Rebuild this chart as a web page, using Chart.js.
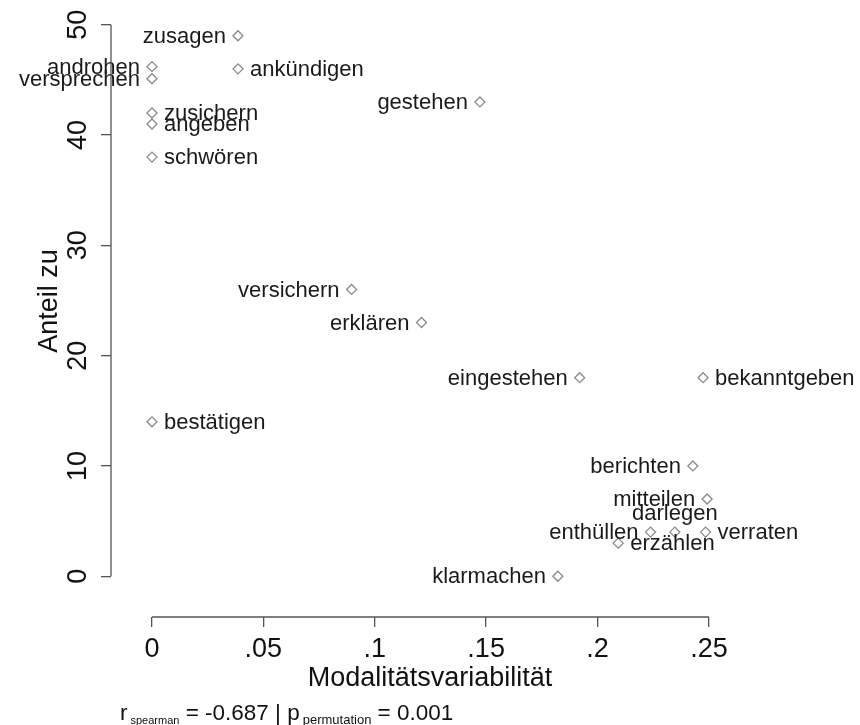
<!DOCTYPE html>
<html>
<head>
<meta charset="utf-8">
<script src="https://cdn.jsdelivr.net/npm/chart.js@4.4.0/dist/chart.umd.min.js"></script>
<style>
  html, body { margin: 0; padding: 0; background: #fff; }
</style>
</head>
<body>
<canvas id="chart" width="860" height="725"></canvas>
<script>
// Verben und ihre Werte
const verbs = ['zusagen', 'androhen', 'versprechen', 'ankündigen', 'gestehen', 'zusichern', 'angeben', 'schwören',
    'versichern', 'erklären', 'eingestehen', 'bekanntgeben', 'bestätigen', 'berichten', 'mitteilen', 'darlegen',
    'enthüllen', 'erzählen', 'verraten', 'klarmachen'];
const modVariability = [0.0386, 0, 0, 0.0386, 0.1472, 0, 0, 0, 0.0896, 0.121, 0.192, 0.2474, 0, 0.2428, 0.2492, 0.2347,
    0.2238, 0.2093, 0.2485, 0.1822];
const shareZu = [49, 46.2, 45.1, 46, 43, 42, 41, 38, 26, 23, 18, 18, 14, 10, 7, 4, 4, 3, 4, 0];
const labelSide = ['left', 'left', 'left', 'right', 'left', 'right', 'right', 'right', 'left', 'left', 'left', 'right',
    'right', 'left', 'left', 'top', 'left', 'right', 'right', 'left'];

const xTicks = [0, 0.05, 0.1, 0.15, 0.2, 0.25];
const xTickLabels = ['0', '.05', '.1', '.15', '.2', '.25'];
const yTicks = [0, 10, 20, 30, 40, 50];

const FONT = '"Liberation Sans", Arial, Helvetica, sans-serif';
const AXIS_COLOR = '#555';

// Beschriftung der Punkte
const labelPlugin = {
    id: 'verbLabels',
    afterDatasetsDraw(chart) {
        const ctx = chart.ctx;
        const meta = chart.getDatasetMeta(0);
        ctx.save();
        ctx.font = '22px ' + FONT;
        ctx.fillStyle = '#1a1a1a';
        ctx.textBaseline = 'middle';
        meta.data.forEach((pt, i) => {
            const side = labelSide[i];
            if (side === 'left') {
                ctx.textAlign = 'right';
                ctx.fillText(verbs[i], pt.x - 12, pt.y + 1);
            } else if (side === 'right') {
                ctx.textAlign = 'left';
                ctx.fillText(verbs[i], pt.x + 12, pt.y + 1);
            } else {
                ctx.textAlign = 'center';
                ctx.fillText(verbs[i], pt.x, pt.y - 18);
            }
        });
        ctx.restore();
    }
};

// R-artige Achsen: Linie nur vom ersten bis zum letzten Tick, plus Titel und Statistik
const axisPlugin = {
    id: 'rAxes',
    afterDraw(chart) {
        const ctx = chart.ctx;
        const xs = chart.scales.x;
        const ys = chart.scales.y;
        const area = chart.chartArea;
        ctx.save();
        ctx.strokeStyle = AXIS_COLOR;
        ctx.lineWidth = 1.3;
        ctx.beginPath();
        ctx.moveTo(xs.getPixelForValue(xTicks[0]), area.bottom);
        ctx.lineTo(xs.getPixelForValue(xTicks[xTicks.length - 1]), area.bottom);
        ctx.moveTo(area.left, ys.getPixelForValue(yTicks[0]));
        ctx.lineTo(area.left, ys.getPixelForValue(yTicks[yTicks.length - 1]));
        ctx.stroke();

        // y-Achsentitel
        ctx.fillStyle = '#111';
        ctx.font = '27px ' + FONT;
        ctx.textAlign = 'center';
        ctx.textBaseline = 'middle';
        ctx.translate(50, 301);
        ctx.rotate(-Math.PI / 2);
        ctx.fillText('Anteil zu', 0, 0);
        ctx.setTransform(1, 0, 0, 1, 0, 0);

        // Statistikzeile mit tiefgestellten Namen
        const parts = [
            ['r', 22.5, 0], ['spearman', 11, 4], [' = -0.687 | ', 22.5, 0],
            ['p', 22.5, 0], ['permutation', 13, 4], [' = 0.001', 22.5, 0]
        ];
        let x = 120;
        const base = 720;
        ctx.textAlign = 'left';
        ctx.textBaseline = 'alphabetic';
        parts.forEach(([txt, size, drop]) => {
            ctx.font = size + 'px ' + FONT;
            if (drop) x += 3;
            ctx.fillText(txt, x, base + drop);
            x += ctx.measureText(txt).width;
        });
        ctx.restore();
    }
};

new Chart(document.getElementById('chart'), {
    type: 'scatter',
    data: {
        datasets: [{
            data: verbs.map((v, i) => ({ x: modVariability[i], y: shareZu[i] })),
            pointStyle: 'rectRot',
            pointRadius: 5,
            pointHoverRadius: 5,
            borderColor: '#8a8a8a',
            backgroundColor: 'rgba(0,0,0,0)',
            borderWidth: 1.3,
            clip: false
        }]
    },
    options: {
        responsive: false,
        animation: false,
        devicePixelRatio: 1,
        layout: { padding: { top: 20, right: 111, left: 0, bottom: 0 } },
        plugins: {
            legend: { display: false },
            tooltip: { enabled: false }
        },
        scales: {
            x: {
                type: 'linear',
                min: -0.0184,
                max: 0.268,
                afterBuildTicks: s => { s.ticks = xTicks.map(v => ({ value: v })); },
                afterFit: s => { s.height = 108; },
                border: { display: false },
                grid: { drawOnChartArea: false, drawTicks: true, tickLength: 10, color: AXIS_COLOR, lineWidth: 1.3 },
                ticks: {
                    font: { family: FONT, size: 27 },
                    color: '#111',
                    padding: 6,
                    maxRotation: 0,
                    callback: v => xTickLabels[xTicks.indexOf(v)]
                },
                title: {
                    display: true,
                    text: 'Modalitätsvariabilität',
                    font: { family: FONT, size: 27 },
                    color: '#111',
                    padding: { top: 0, bottom: 30 }
                }
            },
            y: {
                type: 'linear',
                min: -3.697,
                max: 50.14,
                afterBuildTicks: s => { s.ticks = yTicks.map(v => ({ value: v })); },
                afterFit: s => { s.width = 111; },
                border: { display: false },
                grid: { drawOnChartArea: false, drawTicks: true, tickLength: 10, color: AXIS_COLOR, lineWidth: 1.3 },
                ticks: {
                    font: { family: FONT, size: 27 },
                    color: '#111',
                    padding: 7,
                    minRotation: 90,
                    maxRotation: 90,
                    crossAlign: 'center'
                }
            }
        }
    },
    plugins: [labelPlugin, axisPlugin]
});
</script>
</body>
</html>
